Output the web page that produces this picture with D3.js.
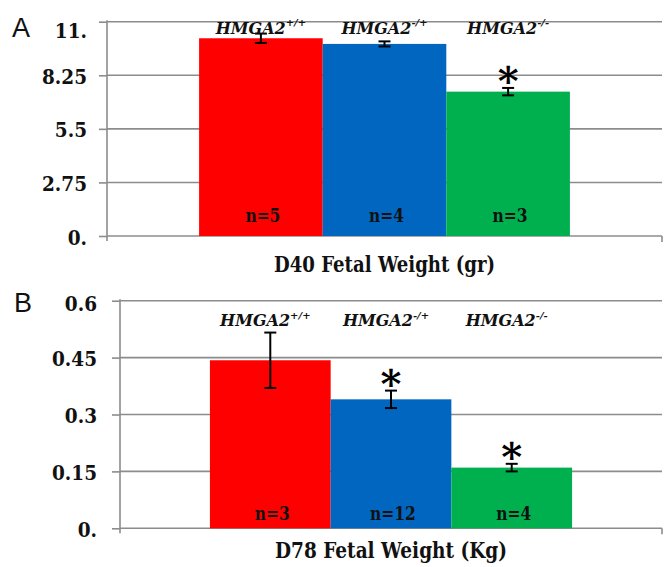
<!DOCTYPE html>
<html>
<head>
<meta charset="utf-8">
<script src="https://cdn.jsdelivr.net/npm/d3@7"></script>
<style>
  html, body { margin: 0; padding: 0; background: #fff; }
  svg { display: block; }
  .serif { font-family: "DejaVu Serif", "Liberation Serif", "Noto Serif", serif; }
  .sans { font-family: "Liberation Sans", Arial, Helvetica, sans-serif; }
</style>
</head>
<body>
<svg id="chart" width="669" height="567"></svg>
<script>
// ---------------- data ----------------
const genotypes = ["+/+", "-/+", "-/-"];
const geneName = "HMGA2";

const d40Weight = [10.15, 9.86, 7.41];
const d40Err    = [0.24, 0.13, 0.19];
const d40N      = [5, 4, 3];
const d40Sig    = [false, false, true];
const d40Ticks  = [0, 2.75, 5.5, 8.25, 11];
const d40TickLabels = ["0.", "2.75", "5.5", "8.25", "11."];
const d40Title  = "D40 Fetal Weight (gr)";

const d78Weight = [0.443, 0.340, 0.160];
const d78Err    = [0.073, 0.023, 0.010];
const d78N      = [3, 12, 4];
const d78Sig    = [false, true, true];
const d78Ticks  = [0, 0.15, 0.3, 0.45, 0.6];
const d78TickLabels = ["0.", "0.15", "0.3", "0.45", "0.6"];
const d78Title  = "D78 Fetal Weight (Kg)";

const colors = ["#ff0000", "#0066c0", "#00b04f"];

// ---------------- layout ----------------
const panels = [
  { letter: "A", letterX: 12, letterY: 37,
    weight: d40Weight, err: d40Err, n: d40N, sig: d40Sig,
    ticks: d40Ticks, tickLabels: d40TickLabels, title: d40Title,
    left: 107, right: 662, top: 21.7, bottom: 236,
    tickLabelX: 87, topLabelShift: 8,
    labelY: 34, labelDx: 0, supDy: -8, nY: 222, titleY: 272, titleW: 221 },
  { letter: "B", letterX: 14, letterY: 312,
    weight: d78Weight, err: d78Err, n: d78N, sig: d78Sig,
    ticks: d78Ticks, tickLabels: d78TickLabels, title: d78Title,
    left: 120, right: 662, top: 300.7, bottom: 528.3,
    tickLabelX: 97, topLabelShift: 2,
    labelY: 325.5, labelDx: -5, supDy: -7, nY: 520, titleY: 558, titleW: 232 }
];

const svg = d3.select("#chart");
const gridColor = "#8c8c8c";

// narrow a serif text horizontally (DejaVu Serif is wider than the original Times)
function squeeze(sel, factor) {
  sel.each(function () {
    const w = this.getComputedTextLength();
    d3.select(this).attr("textLength", w * factor).attr("lengthAdjust", "spacingAndGlyphs");
  });
}

panels.forEach(p => {
  const g = svg.append("g");
  const maxTick = p.ticks[p.ticks.length - 1];
  const y = d3.scaleLinear().domain([0, maxTick]).range([p.bottom, p.top]);
  const x = d3.scaleBand().domain(genotypes).range([p.left, p.right])
              .paddingInner(0).paddingOuter(0.745);

  // gridlines
  g.selectAll("line.grid").data(p.ticks).join("line")
    .attr("class", "grid")
    .attr("x1", p.left).attr("x2", p.right)
    .attr("y1", d => y(d)).attr("y2", d => y(d))
    .attr("stroke", gridColor).attr("stroke-width", 1.6);

  // bars
  const rows = genotypes.map((k, i) => ({ k, v: p.weight[i], e: p.err[i], n: p.n[i], s: p.sig[i], c: colors[i] }));
  g.selectAll("rect.bar").data(rows).join("rect")
    .attr("class", "bar")
    .attr("x", d => x(d.k)).attr("width", x.bandwidth())
    .attr("y", d => y(d.v)).attr("height", d => y(0) - y(d.v))
    .attr("fill", d => d.c);

  // y axis
  const axis = d3.axisLeft(y).tickValues(p.ticks)
    .tickFormat((d, i) => p.tickLabels[i]).tickSizeInner(8).tickSizeOuter(0).tickPadding(0);
  const ag = g.append("g").attr("transform", `translate(${p.left},0)`).call(axis);
  ag.attr("font-family", null).attr("font-size", null);
  ag.select(".domain").remove();
  ag.selectAll(".tick line").attr("stroke", gridColor).attr("stroke-width", 1.6);
  const tt = ag.selectAll(".tick text")
    .attr("class", "serif")
    .attr("x", p.tickLabelX - p.left)
    .attr("dy", (d, i) => (i === p.ticks.length - 1 ? p.topLabelShift : 0) + 8)
    .style("font-weight", "bold")
    .style("font-size", "21px").attr("fill", "#111")
    .attr("text-anchor", "end");
  squeeze(tt, 0.88);

  // axis lines
  g.append("line").attr("x1", p.left).attr("x2", p.left)
    .attr("y1", p.top - 1.5).attr("y2", p.bottom + 5)
    .attr("stroke", gridColor).attr("stroke-width", 1.6);
  g.append("line").attr("x1", p.right).attr("x2", p.right)
    .attr("y1", p.bottom).attr("y2", p.bottom + 6)
    .attr("stroke", gridColor).attr("stroke-width", 1.6);

  // error bars
  const cap = 6;
  const eb = g.selectAll("g.err").data(rows).join("g").attr("class", "err")
    .attr("stroke", "#000").attr("stroke-width", 2);
  eb.append("line")
    .attr("x1", d => x(d.k) + x.bandwidth() / 2).attr("x2", d => x(d.k) + x.bandwidth() / 2)
    .attr("y1", d => y(d.v + d.e)).attr("y2", d => y(d.v - d.e));
  eb.append("line")
    .attr("x1", d => x(d.k) + x.bandwidth() / 2 - cap).attr("x2", d => x(d.k) + x.bandwidth() / 2 + cap)
    .attr("y1", d => y(d.v + d.e)).attr("y2", d => y(d.v + d.e));
  eb.append("line")
    .attr("x1", d => x(d.k) + x.bandwidth() / 2 - cap).attr("x2", d => x(d.k) + x.bandwidth() / 2 + cap)
    .attr("y1", d => y(d.v - d.e)).attr("y2", d => y(d.v - d.e));

  // significance asterisks
  const starSize = 40;
  g.selectAll("text.star").data(rows.filter(d => d.s)).join("text")
    .attr("class", "star serif")
    .attr("x", d => x(d.k) + x.bandwidth() / 2)
    .attr("y", d => y(d.v + d.e) - 12.5 + 0.5 * starSize)
    .attr("text-anchor", "middle")
    .style("font-weight", "bold")
    .style("font-size", starSize + "px").attr("fill", "#000")
    .text("*");

  // genotype labels
  const lab = g.selectAll("text.geno").data(rows).join("text")
    .attr("class", "geno serif")
    .attr("x", d => x(d.k) + x.bandwidth() / 2 + p.labelDx)
    .attr("y", p.labelY)
    .attr("text-anchor", "middle")
    .style("font-weight", "bold").style("font-style", "italic")
    .attr("fill", "#111");
  lab.append("tspan").style("font-size", "16px").text(geneName);
  lab.append("tspan").style("font-size", "10px").attr("dy", p.supDy).text(d => d.k);

  // n labels
  const nl = g.selectAll("text.n").data(rows).join("text")
    .attr("class", "n serif")
    .attr("x", d => x(d.k) + x.bandwidth() / 2 + 2)
    .attr("y", p.nY)
    .attr("text-anchor", "middle")
    .style("font-weight", "bold")
    .style("font-size", "18px").attr("fill", "#111")
    .text(d => "n=" + d.n);
  squeeze(nl, 0.86);

  // axis title
  g.append("text")
    .attr("class", "serif")
    .attr("x", (p.left + p.right) / 2)
    .attr("y", p.titleY)
    .attr("text-anchor", "middle")
    .style("font-weight", "bold")
    .style("font-size", "22px").attr("fill", "#111")
    .attr("textLength", p.titleW).attr("lengthAdjust", "spacingAndGlyphs")
    .text(p.title);

  // panel letter
  g.append("text")
    .attr("class", "sans")
    .attr("x", p.letterX).attr("y", p.letterY)
    .style("font-size", "27px").attr("fill", "#111")
    .text(p.letter);
});
</script>
</body>
</html>
